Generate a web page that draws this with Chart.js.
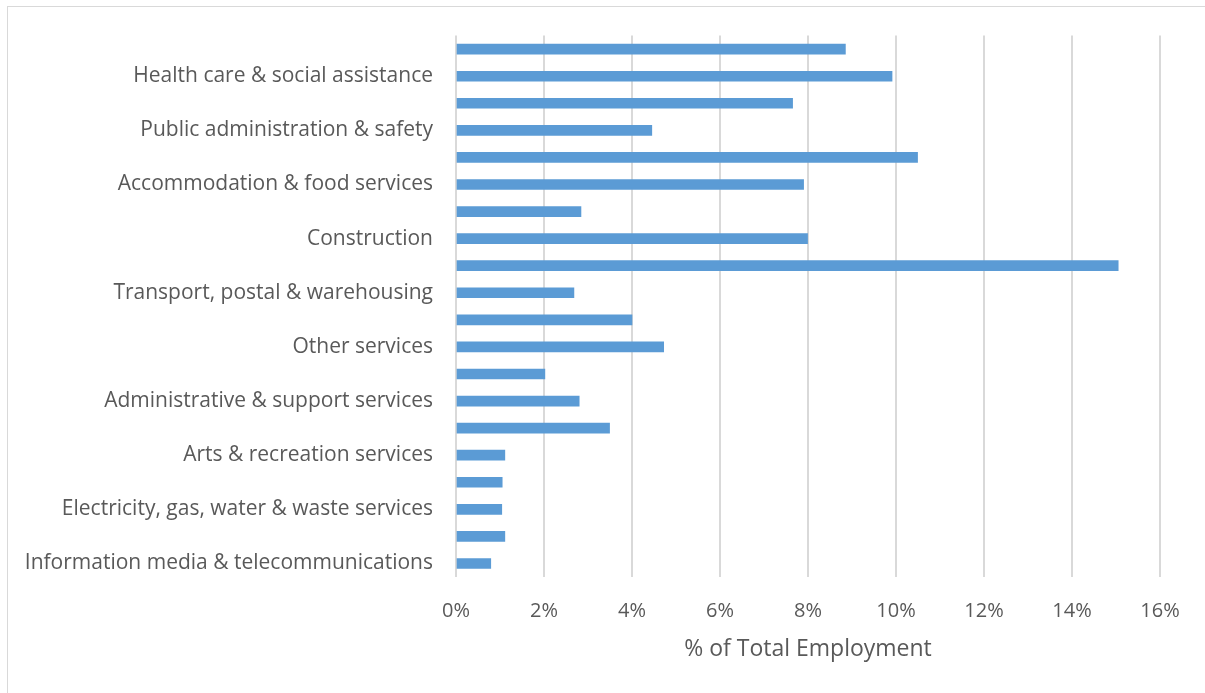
<!DOCTYPE html>
<html>
<head>
<meta charset="utf-8">
<script src="https://cdn.jsdelivr.net/npm/chart.js@4.4.1/dist/chart.umd.min.js"></script>
<style>
  html, body { margin: 0; padding: 0; background: #fff; }
  #wrap { position: relative; width: 1205px; height: 693px; overflow: hidden; }
  #frame { position: absolute; left: 7px; top: 6px; width: 1210px; height: 700px; border: 1px solid #d9d9d9; box-sizing: border-box; }
  #chart { position: absolute; left: 0; top: 0; }
</style>
</head>
<body>
<div id="wrap">
  <div id="frame"></div>
  <canvas id="chart" width="1205" height="693"></canvas>
</div>
<script>
// ── Data ────────────────────────────────────────────────────────────────────
// Top-to-bottom order as drawn; only every other label is shown on the axis
const industries = [
  'Education & training',
  'Health care & social assistance',
  'Manufacturing',
  'Public administration & safety',
  'Retail trade',
  'Accommodation & food services',
  'Professional, scientific & technical services',
  'Construction',
  'Agriculture, forestry & fishing',
  'Transport, postal & warehousing',
  'Wholesale trade',
  'Other services',
  'Rental, hiring & real estate services',
  'Administrative & support services',
  'Mining',
  'Arts & recreation services',
  'Financial & insurance services',
  'Electricity, gas, water & waste services',
  'Inadequately described',
  'Information media & telecommunications',
];

const employmentShare = [
  8.85, 9.91, 7.65, 4.45, 10.49, 7.90, 2.84, 7.99, 15.05, 2.68,
  4.00, 4.72, 2.02, 2.80, 3.49, 1.11, 1.05, 1.04, 1.11, 0.79,
];

const xTicks = [0, 2, 4, 6, 8, 10, 12, 14, 16];

const TEXT_COLOR = '#595959';
const GRID_COLOR = '#d9d9d9';
const BAR_COLOR = '#5b9bd5';
const FAMILY = "'Open Sans', sans-serif";

new Chart(document.getElementById('chart'), {
  type: 'bar',
  data: {
    labels: industries,
    datasets: [{
      data: employmentShare,
      backgroundColor: BAR_COLOR,
      borderWidth: 0,
      barThickness: 10,
    }],
  },
  options: {
    indexAxis: 'y',
    responsive: false,
    animation: false,
    layout: { padding: { top: 35, right: 45, left: 0, bottom: 30 } },
    plugins: { legend: { display: false }, tooltip: { enabled: false } },
    scales: {
      x: {
        min: xTicks[0],
        max: xTicks[xTicks.length - 1],
        afterBuildTicks: (axis) => { axis.ticks = xTicks.map(v => ({ value: v })); },
        grid: { color: GRID_COLOR, lineWidth: 2, drawTicks: false },
        border: { display: false },
        ticks: {
          color: TEXT_COLOR,
          font: { family: FAMILY, size: 20 },
          padding: 22,
          callback: (v) => `${v}%`,
        },
        title: {
          display: true,
          text: '% of Total Employment',
          color: TEXT_COLOR,
          font: { family: FAMILY, size: 23 },
          padding: { top: 6, bottom: 0 },
        },
        afterFit: (axis) => { axis.height = 693 - 30 - 577; },
      },
      y: {
        grid: { display: false, drawTicks: false },
        border: { display: false },
        ticks: {
          color: TEXT_COLOR,
          font: { family: FAMILY, size: 21 },
          padding: 23,
          autoSkip: false,
          callback: (v, i) => (i % 2 === 1 ? industries[i] : ''),
        },
        afterFit: (axis) => { axis.width = 456; },
      },
    },
  },
});
</script>
</body>
</html>
